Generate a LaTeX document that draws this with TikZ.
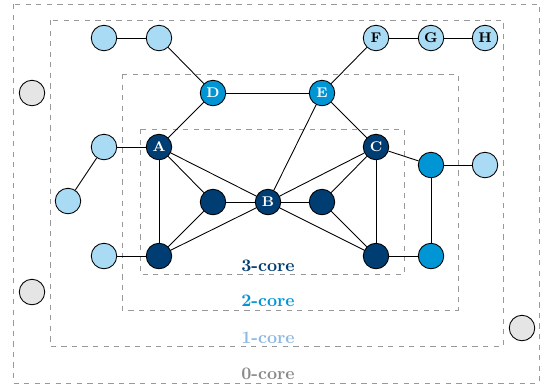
\documentclass[tikz,border=0pt]{standalone}
\usepackage{amssymb}
\usepackage{amsmath}
\usepackage{tikz}
\usetikzlibrary{positioning}
\definecolor{darkcore}{HTML}{003D72}
\definecolor{midcore}{HTML}{0096D6}
\definecolor{lightcore}{HTML}{A9DCF4}
\definecolor{nocore}{HTML}{E5E5E5}
\definecolor{onecoretext}{HTML}{8DB9E2}
\definecolor{zerocoretext}{HTML}{8A8A8A}

\begin{document}
\begin{tikzpicture}[x=0.02cm,y=-0.02cm,
	vtx/.style={shape=circle,draw,line width=0.5pt,minimum size=0.51cm,inner sep=0pt,font=\footnotesize\bfseries},
	k3/.style={vtx,fill=darkcore,text=white},
	k2/.style={vtx,fill=midcore,text=white},
	k1/.style={vtx,fill=lightcore,text=black},
	k0/.style={vtx,fill=nocore},
	shell/.style={draw=gray!80,dashed,line width=0.5pt},
	edge/.style={line width=0.5pt}]
	\useasboundingbox (0,0) rectangle (540,387);
	% core shells
	\draw[shell] (13,4) rectangle (539,383);
	\draw[shell] (50,20) rectangle (503,346);
	\draw[shell] (122,74) rectangle (458,310);
	\draw[shell] (140,129) rectangle (404,274);
	\path (268,266) node (t3) [text=darkcore,font=\bfseries] {3-core}
		  (268,301) node (t2) [text=midcore,font=\bfseries] {2-core}
		  (268,338) node (t1) [text=onecoretext,font=\bfseries] {1-core}
		  (268,374) node (t0) [text=zerocoretext,font=\bfseries] {0-core};
	% 3-core
	\path (159,147) node (A) [k3] {A}
		  (268,202) node (B) [k3] {B}
		  (376,147) node (C) [k3] {C}
		  (213,202) node (d1) [k3] {}
		  (322,202) node (d2) [k3] {}
		  (159,256) node (d3) [k3] {}
		  (376,256) node (d4) [k3] {};
	% 2-core
	\path (213,93) node (D) [k2] {D}
		  (322,93) node (E) [k2] {E}
		  (431,165) node (m1) [k2] {}
		  (431,256) node (m2) [k2] {};
	% 1-core
	\path (376,38) node (F) [k1] {F}
		  (431,38) node (G) [k1] {G}
		  (485,38) node (H) [k1] {H}
		  (104,38) node (l1) [k1] {}
		  (159,38) node (l2) [k1] {}
		  (104,147) node (l3) [k1] {}
		  (68,201) node (l4) [k1] {}
		  (104,256) node (l5) [k1] {}
		  (485,165) node (l6) [k1] {};
	% 0-core
	\path (32,93) node (i1) [k0] {}
		  (32,292) node (i2) [k0] {}
		  (522,328) node (i3) [k0] {};
	\draw[edge] (l1) -- (l2);
	\draw[edge] (l2) -- (D);
	\draw[edge] (D) -- (E);
	\draw[edge] (D) -- (A);
	\draw[edge] (E) -- (F);
	\draw[edge] (F) -- (G);
	\draw[edge] (G) -- (H);
	\draw[edge] (E) -- (C);
	\draw[edge] (E) -- (B);
	\draw[edge] (A) -- (l3);
	\draw[edge] (l3) -- (l4);
	\draw[edge] (A) -- (B);
	\draw[edge] (A) -- (d1);
	\draw[edge] (A) -- (d3);
	\draw[edge] (d1) -- (B);
	\draw[edge] (d3) -- (d1);
	\draw[edge] (d3) -- (B);
	\draw[edge] (d3) -- (l5);
	\draw[edge] (B) -- (C);
	\draw[edge] (B) -- (d2);
	\draw[edge] (B) -- (d4);
	\draw[edge] (C) -- (d2);
	\draw[edge] (C) -- (d4);
	\draw[edge] (d2) -- (d4);
	\draw[edge] (C) -- (m1);
	\draw[edge] (m1) -- (l6);
	\draw[edge] (m1) -- (m2);
	\draw[edge] (d4) -- (m2);
\end{tikzpicture}
\end{document}
